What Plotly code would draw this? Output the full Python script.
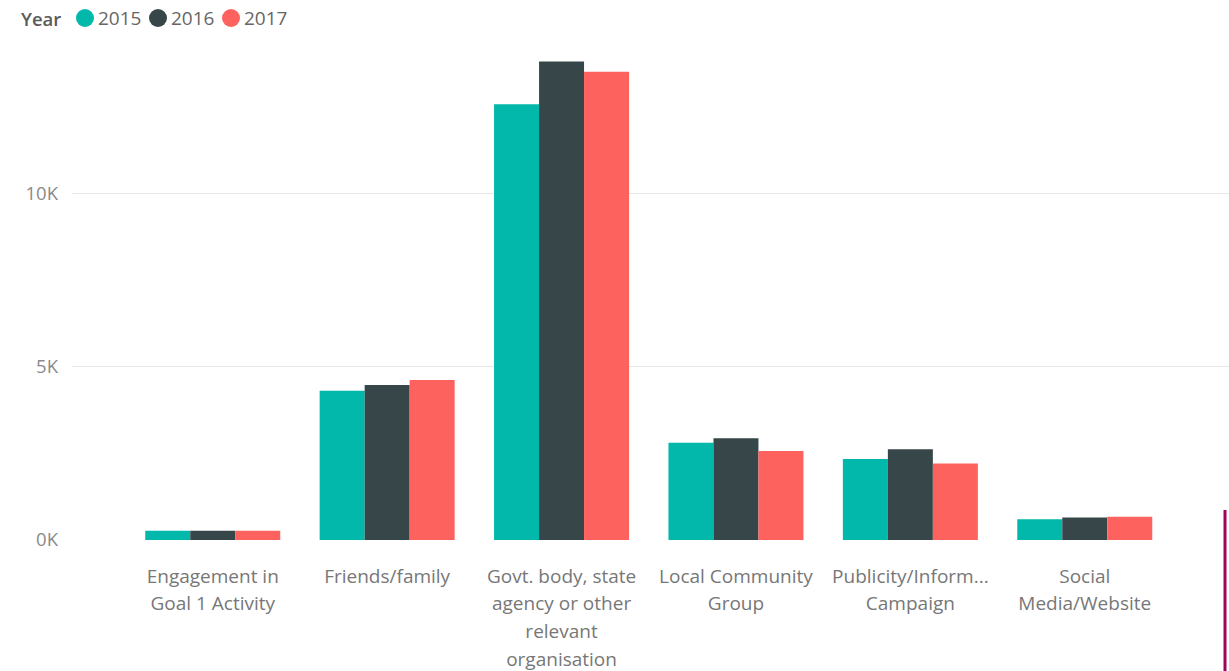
import plotly.graph_objects as go

# Source of awareness by year
category_lines = [
    ["Engagement in", "Goal 1 Activity"],
    ["Friends/family"],
    ["Govt. body, state", "agency or other", "relevant", "organisation"],
    ["Local Community", "Group"],
    ["Publicity/Inform...", "Campaign"],
    ["Social", "Media/Website"],
]
years = ["2015", "2016", "2017"]
values_2015 = [265, 4310, 12590, 2810, 2340, 600]
values_2016 = [270, 4480, 13820, 2940, 2620, 650]
values_2017 = [270, 4620, 13530, 2570, 2210, 670]
series = [values_2015, values_2016, values_2017]
colors = ["#01B8AA", "#374649", "#FD625E"]

y_ticks = [0, 5000, 10000]
y_tick_labels = ["0K", "5K", "10K"]

FONT = "Open Sans, Noto Sans, sans-serif"
LABEL_PX = 19      # visible size of category labels
LINE_BASE = 21.5   # base size that sets the line pitch of wrapped labels

W, H = 1229, 671
M_L, M_R, M_T, M_B = 72, 0, 45, 131
PLOT_W = W - M_L - M_R
PLOT_H = H - M_T - M_B


def px_x(p):
    """pixel column -> paper x"""
    return (p - M_L) / PLOT_W


def px_y(p):
    """pixel row -> paper y"""
    return (H - M_B - p) / PLOT_H


# wrapped tick text: smaller spans on a larger base give looser line spacing
categories = [
    "<br>".join(f"<span style='font-size:{LABEL_PX}px'>{ln}</span>" for ln in lines)
    for lines in category_lines
]

fig = go.Figure()
x_idx = list(range(len(categories)))

for year, vals, col in zip(years, series, colors):
    fig.add_trace(go.Bar(
        x=x_idx, y=vals, name=year, marker=dict(color=col, line=dict(width=0)),
        showlegend=False,
    ))

# compact legend row: title, then a dot and label per year
LEGEND_ROW = 18
shapes = []
annotations = [dict(
    text="Year", xref="paper", yref="paper", x=px_x(19), y=px_y(LEGEND_ROW),
    xanchor="left", yanchor="middle", showarrow=False,
    font=dict(size=18.5, color="#5A5A5A", weight=600, family=FONT),
)]
for i, (year, col) in enumerate(zip(years, colors)):
    cx = 85 + i * 73
    shapes.append(dict(
        type="circle", xref="paper", yref="paper",
        xsizemode="pixel", ysizemode="pixel",
        xanchor=px_x(cx), yanchor=px_y(LEGEND_ROW),
        x0=-9, x1=9, y0=-9, y1=9,
        fillcolor=col, line=dict(width=0),
    ))
    annotations.append(dict(
        text=year, xref="paper", yref="paper", x=px_x(cx + 11), y=px_y(LEGEND_ROW),
        xanchor="left", yanchor="middle", showarrow=False,
        font=dict(size=19, color="#666666", family=FONT),
    ))

# thin accent rule at the lower right edge
shapes.append(dict(
    type="line", xref="paper", yref="paper",
    x0=px_x(1225), x1=px_x(1225), y0=px_y(510), y1=px_y(671),
    line=dict(color="#A3005A", width=3),
))

fig.update_layout(
    width=W, height=H,
    margin=dict(l=M_L, r=M_R, t=M_T, b=M_B),
    paper_bgcolor="white", plot_bgcolor="white",
    barmode="group", bargap=0.226, bargroupgap=0,
    font=dict(family=FONT, color="#777777"),
    showlegend=False,
    xaxis=dict(
        tickmode="array", tickvals=x_idx, ticktext=categories,
        range=[-0.807, 5.827], showgrid=False, zeroline=False, showline=False,
        ticks="", tickfont=dict(size=LINE_BASE, color="#777777"), ticklabelstandoff=20,
    ),
    yaxis=dict(
        range=[0, 14300], tickmode="array", tickvals=y_ticks, ticktext=y_tick_labels,
        showgrid=True, gridcolor="#E6E6E6", gridwidth=1,
        zeroline=False, showline=False, ticks="",
        tickfont=dict(size=18.5, color="#8A8A8A"), ticklabelstandoff=13,
    ),
    shapes=shapes,
    annotations=annotations,
)

fig.write_html("out.html")
